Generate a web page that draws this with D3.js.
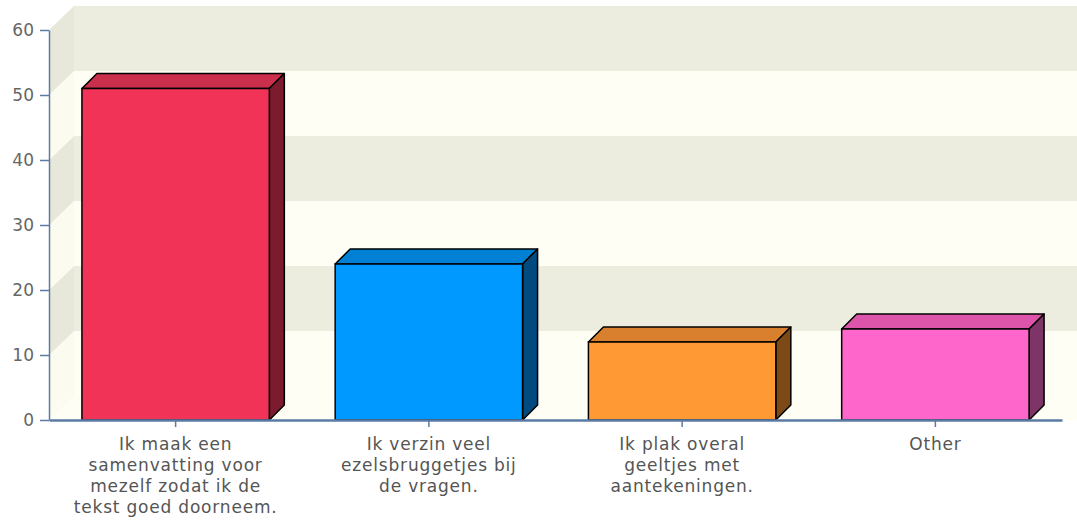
<!DOCTYPE html>
<html>
<head>
<meta charset="utf-8">
<script src="https://d3js.org/d3.v7.min.js"></script>
<style>
  body { margin: 0; background: #fff; }
  text { font-family: "DejaVu Sans", sans-serif; }
</style>
</head>
<body>
<svg width="1077" height="524"></svg>
<script>
// chart data
var categories = ["cat1", "cat2", "cat3", "cat4"];
var labels = [
  ["Ik maak een", "samenvatting voor", "mezelf zodat ik de", "tekst goed doorneem."],
  ["Ik verzin veel", "ezelsbruggetjes bij", "de vragen."],
  ["Ik plak overal", "geeltjes met", "aantekeningen."],
  ["Other"]
];
var values = [51, 24, 12, 14];
var yTicks = [0, 10, 20, 30, 40, 50, 60];
var frontColors = ["#f23358", "#0099ff", "#ff9933", "#ff66cc"];
var topColors   = ["#ca2f4b", "#0080d4", "#d8802e", "#dd55aa"];
var sideColors  = ["#7c1b2e", "#004a7f", "#7c4a17", "#7f3468"];

var svg = d3.select("svg");

var x = d3.scaleBand()
    .domain(categories)
    .range([49, 1062])
    .paddingInner(0.26)
    .paddingOuter(0.13);

var y = d3.scaleLinear()
    .domain([0, 60])
    .range([420, 30]);

// depth of back wall and of bars
var wx = 25, wy = 24, d = 15;

// back wall bands
var bands = d3.range(0, 60, 10);
var wall = svg.append("g");
bands.forEach(function(b, i) {
  var fill = (i % 2 == 0) ? "#fefef5" : "#ececdf";
  var side = (i % 2 == 0) ? "#fbfbf0" : "#e8e8da";
  wall.append("rect")
      .attr("x", 49 + wx)
      .attr("y", y(b + 10) - wy)
      .attr("width", 1077 - 49 - wx)
      .attr("height", y(b) - y(b + 10))
      .attr("fill", fill);
  // left side panel
  wall.append("path")
      .attr("d", "M49," + y(b) + "L" + (49 + wx) + "," + (y(b) - wy) +
                 "L" + (49 + wx) + "," + (y(b + 10) - wy) + "L49," + y(b + 10) + "Z")
      .attr("fill", side);
});
// floor
wall.append("path")
    .attr("d", "M49," + y(0) + "L" + (49 + wx) + "," + (y(0) - wy) +
               "L1077," + (y(0) - wy) + "L1077," + y(0) + "Z")
    .attr("fill", "#fefef5");

// bars
var bars = svg.append("g")
  .selectAll("g")
  .data(values)
  .enter().append("g");

bars.append("path")
    .attr("d", function(v, i) {
      var x0 = x(categories[i]), x1 = x0 + x.bandwidth(), yv = y(v);
      return "M" + x0 + "," + yv + "L" + (x0 + d) + "," + (yv - d) +
             "L" + (x1 + d) + "," + (yv - d) + "L" + x1 + "," + yv + "Z";
    })
    .attr("fill", function(v, i) { return topColors[i]; })
    .attr("stroke", "#000")
    .attr("stroke-width", 1.5)
    .attr("stroke-linejoin", "round");

bars.append("path")
    .attr("d", function(v, i) {
      var x1 = x(categories[i]) + x.bandwidth(), yv = y(v), y0 = y(0);
      return "M" + x1 + "," + yv + "L" + (x1 + d) + "," + (yv - d) +
             "L" + (x1 + d) + "," + (y0 - d) + "L" + x1 + "," + y0 + "Z";
    })
    .attr("fill", function(v, i) { return sideColors[i]; })
    .attr("stroke", "#000")
    .attr("stroke-width", 1.5)
    .attr("stroke-linejoin", "round");

bars.append("rect")
    .attr("x", function(v, i) { return x(categories[i]); })
    .attr("y", function(v) { return y(v); })
    .attr("width", x.bandwidth())
    .attr("height", function(v) { return y(0) - y(v); })
    .attr("fill", function(v, i) { return frontColors[i]; })
    .attr("stroke", "#000")
    .attr("stroke-width", 1.5);

// y axis
var yAxis = svg.append("g")
    .attr("transform", "translate(49,0)")
    .call(d3.axisLeft(y).tickValues(yTicks).tickSize(9).tickSizeOuter(0).tickPadding(6));
yAxis.select(".domain").attr("stroke", "#5b7ba5").attr("stroke-width", 1.5);
yAxis.selectAll(".tick line").attr("stroke", "#5b7ba5").attr("stroke-width", 1.5);
yAxis.selectAll(".tick text")
    .attr("fill", "#666")
    .style("font-size", "17px");

// x axis
var xAxis = svg.append("g")
    .attr("transform", "translate(0," + y(0) + ")")
    .call(d3.axisBottom(x).tickSize(7).tickSizeOuter(0).tickFormat(""));
xAxis.select(".domain").attr("stroke", "#5b7ba5").attr("stroke-width", 2.5);
xAxis.selectAll(".tick line").attr("stroke", "#5b7ba5").attr("stroke-width", 1.5);

// multi-line category labels
var lab = svg.append("g")
  .selectAll("text")
  .data(labels)
  .enter().append("text")
    .attr("x", function(l, i) { return x(categories[i]) + x.bandwidth() / 2; })
    .attr("y", 450)
    .attr("text-anchor", "middle")
    .attr("fill", "#555")
    .style("font-size", "17px")
    .style("letter-spacing", "0.8px");

lab.selectAll("tspan")
  .data(function(l) { return l; })
  .enter().append("tspan")
    .attr("x", function() { return this.parentNode.getAttribute("x"); })
    .attr("dy", function(t, j) { return j == 0 ? 0 : 21; })
    .text(function(t) { return t; });
</script>
</body>
</html>
